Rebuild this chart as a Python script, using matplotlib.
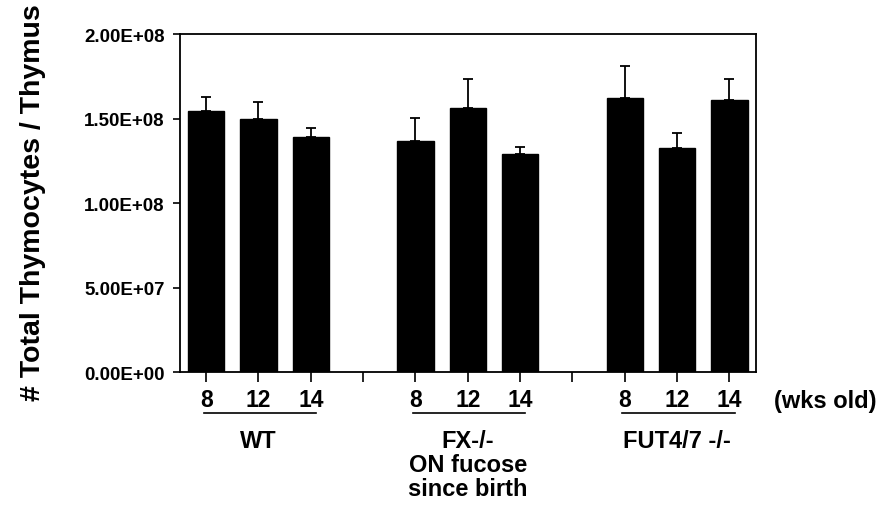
import numpy as np
import matplotlib
matplotlib.use("Agg")
import matplotlib.pyplot as plt

plt.rcParams['font.family'] = ['Liberation Sans', 'DejaVu Sans']
plt.rcParams['font.weight'] = 'bold'

# data
ages = ['8', '12', '14']
groups = ['WT', 'FX-/-\nON fucose\nsince birth', 'FUT4/7 -/-']
means = [1.543e8, 1.497e8, 1.392e8,
         1.369e8, 1.564e8, 1.290e8,
         1.620e8, 1.324e8, 1.609e8]
errs = [0.086e8, 0.099e8, 0.054e8,
        0.134e8, 0.168e8, 0.043e8,
        0.193e8, 0.089e8, 0.124e8]
yticks = [0, 5e7, 1e8, 1.5e8, 2e8]
ytick_labels = ['0.00E+00', '5.00E+07', '1.00E+08', '1.50E+08', '2.00E+08']

# positions: 3 bars per group, one empty slot between groups
pos = []
for g in range(len(groups)):
    for a in range(len(ages)):
        pos.append(g * 4 + a)
pos = np.array(pos)

fig = plt.figure(figsize=(8.84, 5.06), dpi=100)
ax = fig.add_axes([0.2036, 0.2628, 0.6512, 0.668])

ax.bar(pos, means, width=0.69, color='black', edgecolor='black', zorder=2)
ax.errorbar(pos, means, yerr=[np.zeros(len(errs)), errs], fmt='none',
            ecolor='black', elinewidth=1.3, capsize=3.6, capthick=1.3, zorder=1)

ax.set_xlim(-0.5, 10.5)
ax.set_ylim(0, 2e8)
ax.set_yticks(yticks)
ax.set_yticklabels(ytick_labels, fontsize=13.5, fontweight='bold')

xt = list(range(11))
xl = []
for i in xt:
    if i in pos:
        xl.append(ages[list(pos).index(i) % 3])
    else:
        xl.append('')
ax.set_xticks(xt)
ax.set_xticklabels(xl, fontsize=16.5, fontweight='bold')

ax.tick_params(axis='y', length=5, width=1.2, pad=6)
ax.tick_params(axis='x', length=7, width=1.2, pad=4.5)
for s in ax.spines.values():
    s.set_linewidth(1.3)

trans = ax.get_xaxis_transform()
for g, name in enumerate(groups):
    x0 = g * 4
    ax.plot([x0 - 0.05, x0 + 2.1], [-0.122, -0.122], color='black', lw=1.2,
            transform=trans, clip_on=False)
    ax.text(x0 + 1, -0.168, name, transform=trans, ha='center', va='top',
            fontsize=17, fontweight='bold', linespacing=1.05)

ax.text(10.86, -0.083, '(wks old)', transform=trans, ha='left', va='center',
        fontsize=17, fontweight='bold')

fig.text(0.037, 0.60, '# Total Thymocytes / Thymus', rotation=90,
         ha='center', va='center', fontsize=20.5, fontweight='bold')

fig.savefig('out.png', dpi=100)
